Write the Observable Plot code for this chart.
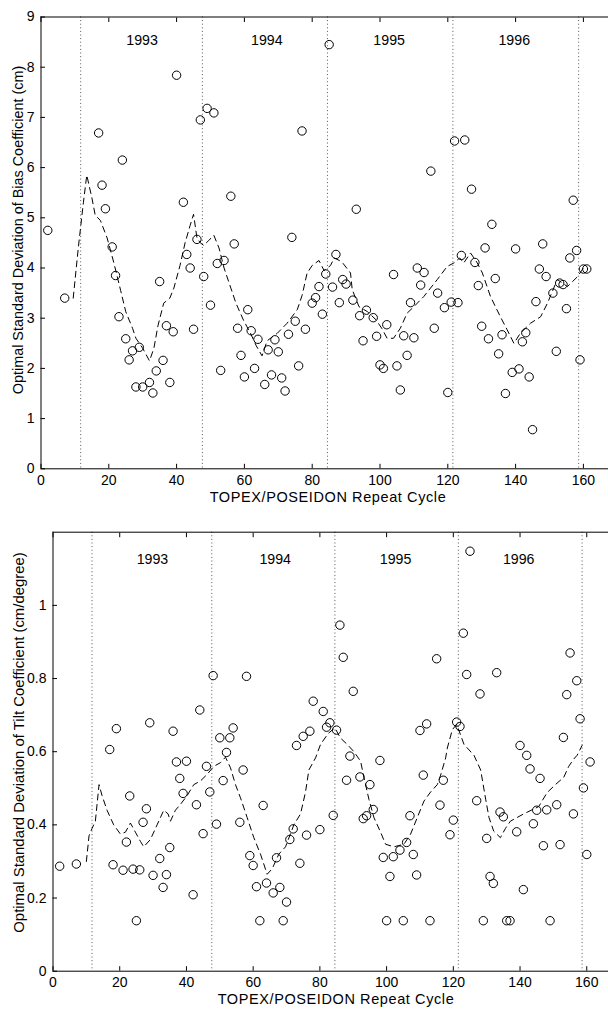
<!DOCTYPE html>
<html>
<head>
<meta charset="utf-8">
<script src="https://cdn.jsdelivr.net/npm/d3@7"></script>
<script src="https://cdn.jsdelivr.net/npm/@observablehq/plot@0.6"></script>
<style>
  html, body { margin: 0; padding: 0; background: #fff; overflow: hidden; }
  svg { display: block; }
</style>
</head>
<body>
<div id="chart"></div>
<script>
// ---------- data ----------
const xTicks = [0, 20, 40, 60, 80, 100, 120, 140, 160];
const yearBoundaries = [11.7, 47.6, 84.5, 121.5, 158.6];
const yearLabels = ["1993", "1994", "1995", "1996"];
const yearLabelCycles = [29.8, 66.6, 102.7, 139.6];

// Panel 1: bias coefficient (cm)
const biasCycles = [2, 7, 17, 18, 19, 21, 22, 23, 24, 25, 26, 27, 28, 29, 30, 32, 33, 34, 35, 36, 37, 38, 39, 40,
  42, 43, 44, 45, 46, 47, 48, 49, 50, 51, 52, 53, 54, 56, 57, 58, 59, 60, 61, 62, 63, 64, 66, 67, 68, 69, 70,
  71, 72, 73, 74, 75, 76, 77, 78, 80, 81, 82, 83, 84, 85, 86, 87, 88, 89, 90, 92, 93, 94, 95, 96, 98, 99, 100,
  101, 102, 104, 105, 106, 107, 108, 109, 110, 111, 112, 113, 115, 116, 117, 119, 120, 121, 122, 123, 124, 125,
  127, 128, 129, 130, 131, 132, 133, 134, 135, 136, 137, 139, 140, 141, 142, 143, 144, 145, 146, 147, 148, 149,
  151, 152, 153, 154, 155, 156, 157, 158, 159, 160, 161];
const biasValues = [4.75, 3.40, 6.69, 5.65, 5.18, 4.42, 3.85, 3.03, 6.15, 2.59, 2.17, 2.35, 1.63, 2.42, 1.63, 1.72, 1.51, 1.95, 3.73, 2.16, 2.85, 1.72, 2.73, 7.84,
  5.31, 4.27, 4.00, 2.78, 4.57, 6.95, 3.83, 7.18, 3.26, 7.09, 4.09, 1.96, 4.15, 5.43, 4.48, 2.80, 2.26, 1.83, 3.17, 2.75, 2.00, 2.58, 1.68, 2.37, 1.87, 2.57, 2.33,
  1.81, 1.55, 2.68, 4.61, 2.94, 2.05, 6.73, 2.78, 3.30, 3.41, 3.63, 3.08, 3.88, 8.45, 3.62, 4.27, 3.31, 3.77, 3.68, 3.36, 5.17, 3.05, 2.55, 3.16, 3.01, 2.64, 2.07,
  2.00, 2.87, 3.87, 2.05, 1.57, 2.65, 2.26, 3.31, 2.61, 4.00, 3.66, 3.91, 5.93, 2.80, 3.50, 3.21, 1.52, 3.32, 6.53, 3.31, 4.25, 6.55,
  5.57, 4.11, 3.65, 2.84, 4.40, 2.59, 4.87, 3.79, 2.29, 2.67, 1.50, 1.92, 4.38, 1.99, 2.53, 2.71, 1.83, 0.78, 3.33, 3.98, 4.48, 3.83,
  3.50, 2.34, 3.70, 3.67, 3.19, 4.20, 5.35, 4.35, 2.17, 3.98, 3.98];
const biasTrendCycles = [9.5, 11, 12.5, 13.5, 15, 16, 17.5, 19.5, 21.5, 23.5, 25, 27, 28, 30, 32, 33.3, 34.5, 36.2, 38, 39.2, 41, 42.5, 44, 45,
  46, 47, 48, 49.5, 51, 52.5, 54, 56, 57.5, 59.8, 61.8, 63.5, 65.2, 66.7, 69.7, 72.6, 75.6, 77, 78.5, 80, 82, 83.5, 85.4, 86.5, 88, 89,
  91.3, 91.8, 93.8, 96.3, 98.8, 100.5, 102.1, 104, 106, 108, 110, 112.9, 116.9, 119.8, 121.8, 123.5, 124.7, 126.7, 128.7, 130.2,
  132.6, 135.5, 137.5, 139.5, 141.4, 144.4, 147.4, 149.4, 152.3, 155.3, 158.3, 160];
const biasTrendValues = [3.40, 4.40, 5.30, 5.85, 5.40, 5.05, 4.95, 4.60, 4.10, 3.55, 3.13, 2.80, 2.60, 2.40, 2.15, 2.40, 2.85, 3.30, 3.40, 3.60, 4.05, 4.50, 4.85, 5.07,
  4.60, 4.50, 4.45, 4.55, 4.65, 4.40, 4.00, 3.60, 3.30, 2.95, 2.70, 2.45, 2.25, 2.55, 2.70, 2.90, 3.17, 3.45, 3.90, 4.05, 4.15, 3.95, 4.05, 4.20, 4.15, 4.10,
  3.90, 3.57, 3.23, 3.13, 2.97, 2.80, 2.60, 2.60, 2.80, 3.10, 3.23, 3.43, 3.77, 4.03, 4.10, 4.20, 4.10, 4.30, 4.10, 3.90,
  3.43, 3.03, 2.77, 2.50, 2.70, 2.90, 3.03, 3.30, 3.77, 3.63, 3.83, 4.00];
const biasYTicks = [0, 1, 2, 3, 4, 5, 6, 7, 8, 9];

// Panel 2: tilt coefficient (cm/degree)
const tiltCycles = [2, 7, 17, 18, 19, 21, 22, 23, 24, 25, 26, 27, 28, 29, 30, 32, 33, 34, 35, 36, 37, 38, 39, 40,
  42, 43, 44, 45, 46, 47, 48, 49, 50, 51, 52, 53, 54, 56, 57, 58, 59, 60, 61, 62, 63, 64, 66, 67, 68, 69, 70,
  71, 72, 73, 74, 75, 76, 77, 78, 80, 81, 82, 83, 84, 85, 86, 87, 88, 89, 90, 92, 93, 94, 95, 96, 98, 99, 100,
  101, 102, 104, 105, 106, 107, 108, 109, 110, 111, 112, 113, 115, 116, 117, 119, 120, 121, 122, 123, 124, 125,
  127, 128, 129, 130, 131, 132, 133, 134, 135, 136, 137, 139, 140, 141, 142, 143, 144, 145, 146, 147, 148, 149,
  151, 152, 153, 154, 155, 156, 157, 158, 159, 160, 161];
const tiltValues = [0.287, 0.293, 0.606, 0.291, 0.663, 0.276, 0.353, 0.479, 0.279, 0.138, 0.277, 0.407, 0.444, 0.679, 0.262, 0.308, 0.229, 0.264, 0.338, 0.656, 0.572, 0.527, 0.486, 0.574,
  0.209, 0.455, 0.714, 0.376, 0.560, 0.490, 0.808, 0.402, 0.638, 0.521, 0.598, 0.638, 0.665, 0.407, 0.550, 0.806, 0.316, 0.289, 0.231, 0.138, 0.453, 0.241, 0.214, 0.310, 0.229, 0.138, 0.189,
  0.360, 0.389, 0.617, 0.295, 0.642, 0.372, 0.656, 0.738, 0.387, 0.710, 0.667, 0.679, 0.426, 0.659, 0.946, 0.858, 0.522, 0.588, 0.765, 0.531, 0.417, 0.425, 0.510, 0.442, 0.576, 0.311, 0.138,
  0.259, 0.313, 0.331, 0.138, 0.352, 0.425, 0.319, 0.263, 0.658, 0.536, 0.676, 0.138, 0.854, 0.454, 0.522, 0.373, 0.413, 0.681, 0.669, 0.924, 0.811, 1.148,
  0.466, 0.758, 0.138, 0.363, 0.259, 0.240, 0.816, 0.435, 0.422, 0.138, 0.138, 0.381, 0.617, 0.223, 0.590, 0.553, 0.403, 0.440, 0.527, 0.343, 0.441, 0.138,
  0.455, 0.346, 0.639, 0.756, 0.870, 0.430, 0.794, 0.690, 0.501, 0.319, 0.572];
const tiltTrendCycles = [10, 10.8, 11.7, 12.7, 13.8, 14.7, 16.2, 18.2, 20.2, 21.7, 23.2, 24.7, 26.2, 27.2, 29.2, 31.2, 33.2, 34.5, 35.2, 36.7, 38.2, 40.2,
  42.2, 44.2, 46.2, 48.2, 50.2, 51.7, 53.2, 54.7, 56.2, 58.2, 60.2, 62.2, 64.2, 65.7, 67.7, 69.7, 72.2, 74.2, 75.7, 76.7, 78.7, 80.2,
  82.5, 84.5, 86.2, 88.2, 90.2, 92.2, 93.2, 94.7, 96.2, 98.2, 99.7, 102.2, 105.2, 107.2, 109.2, 111.2, 113.2, 115.2, 116.2, 117.7,
  118.2, 119.7, 121, 123.2, 126.2, 128.2, 129.7, 130.7, 132.1, 134.1, 135.6, 137.1, 139.1, 141.1, 145.6, 148.1, 150.6, 153.1,
  154.6, 156.1, 157.1, 158.6];
const tiltTrendValues = [0.30, 0.37, 0.39, 0.41, 0.51, 0.48, 0.44, 0.40, 0.375, 0.38, 0.405, 0.38, 0.355, 0.34, 0.36, 0.40, 0.44, 0.43, 0.41, 0.44, 0.456, 0.48,
  0.51, 0.52, 0.538, 0.56, 0.57, 0.585, 0.556, 0.51, 0.474, 0.42, 0.365, 0.32, 0.265, 0.28, 0.32, 0.34, 0.40, 0.43, 0.49, 0.55, 0.583, 0.62,
  0.65, 0.665, 0.637, 0.62, 0.60, 0.574, 0.53, 0.47, 0.42, 0.38, 0.347, 0.34, 0.347, 0.375, 0.42, 0.465, 0.49, 0.51, 0.536, 0.583,
  0.61, 0.66, 0.675, 0.62, 0.59, 0.55, 0.47, 0.42, 0.383, 0.365, 0.39, 0.41, 0.42, 0.43, 0.45, 0.488, 0.51, 0.53,
  0.56, 0.58, 0.59, 0.617];
const tiltYTicks = [0, 0.2, 0.4, 0.6, 0.8, 1];

const xTitle = "TOPEX/POSEIDON Repeat Cycle";
const biasTitle = "Optimal Standard Deviation of Bias Coefficient (cm)";
const tiltTitle = "Optimal Standard Deviation of Tilt Coefficient (cm/degree)";

// ---------- drawing ----------
const FONT = "Liberation Sans, Arial, Helvetica, sans-serif";

function panel(cfg) {
  const pts = cfg.cycles.map((c, i) => ({c, v: cfg.values[i]}));
  const trend = cfg.trendCycles.map((c, i) => ({c, v: cfg.trendValues[i]}));
  const years = yearLabels.map((t, i) => ({t, c: yearLabelCycles[i]}));
  const svg = Plot.plot({
    width: 608,
    height: cfg.height,
    marginLeft: cfg.marginLeft,
    marginRight: 0,
    marginTop: cfg.marginTop,
    marginBottom: cfg.marginBottom,
    style: {fontFamily: FONT, fontSize: "14px", color: "black", background: "white", overflow: "visible"},
    x: {domain: [0, cfg.xMax], axis: null, label: null},
    y: {domain: cfg.yDomain, axis: null, label: null},
    marks: [
      Plot.ruleX(yearBoundaries, {stroke: "#555", strokeWidth: 1, strokeDasharray: "1,2.6"}),
      Plot.line(trend, {x: "c", y: "v", stroke: "black", strokeWidth: 1, strokeDasharray: "6,4.5"}),
      Plot.dot(pts, {x: "c", y: "v", r: 4.2, stroke: "black", strokeWidth: 1, fill: "none"}),
      Plot.text(years, {x: "c", y: () => cfg.yearY, text: "t", fontSize: 14.2, fill: "black"}),
      Plot.ruleX([0], {stroke: "black", strokeWidth: 1}),
      Plot.ruleY([cfg.yDomain[0], cfg.yDomain[1]], {stroke: "black", strokeWidth: 1}),
      Plot.axisX({anchor: "bottom", label: null, ticks: xTicks, tickSize: -4.5, tickPadding: 10.5, fontSize: 14, tickFormat: d => String(d)}),
      Plot.axisX({anchor: "top", label: null, ticks: xTicks, tickSize: -4.5, tickFormat: () => ""}),
      Plot.axisY({anchor: "left", label: null, ticks: cfg.yTicks, tickSize: -4.5, tickPadding: 11, fontSize: 14, tickFormat: d3.format("~g")})
    ]
  });
  const s = d3.select(svg);
  s.append("text")
    .attr("x", cfg.xTitleX).attr("y", cfg.xTitleY)
    .attr("text-anchor", "middle")
    .attr("font-family", FONT).attr("font-size", 14.5).attr("letter-spacing", 0.6).attr("fill", "black")
    .text(xTitle);
  s.append("text")
    .attr("transform", `translate(${cfg.yTitleX},${cfg.yTitleY}) rotate(-90)`)
    .attr("text-anchor", "middle")
    .attr("dominant-baseline", "central")
    .attr("font-family", FONT).attr("font-size", cfg.yTitleSize).attr("fill", "black")
    .text(cfg.yTitle);
  return svg;
}

const chart = document.getElementById("chart");
chart.appendChild(panel({
  cycles: biasCycles, values: biasValues,
  trendCycles: biasTrendCycles, trendValues: biasTrendValues,
  height: 508, marginLeft: 40.5, marginTop: 16.5, marginBottom: 508 - 468.3,
  xMax: (608 - 40.5) / 3.39, yDomain: [0, 9], yTicks: biasYTicks, yearY: 8.53,
  xTitleX: 328, xTitleY: 502, yTitleX: 17.5, yTitleY: 230, yTitleSize: 14.4, yTitle: biasTitle
}));
chart.appendChild(panel({
  cycles: tiltCycles, values: tiltValues,
  trendCycles: tiltTrendCycles, trendValues: tiltTrendValues,
  height: 501, marginLeft: 52.5, marginTop: 531.7 - 508, marginBottom: 501 - (970.7 - 508),
  xMax: (608 - 52.5) / 3.336, yDomain: [0, 1.2], yTicks: tiltYTicks, yearY: 1.125,
  xTitleX: 336, xTitleY: 1004 - 508, yTitleX: 18.5, yTitleY: 742.5 - 508, yTitleSize: 14.9, yTitle: tiltTitle
}));
</script>
</body>
</html>
